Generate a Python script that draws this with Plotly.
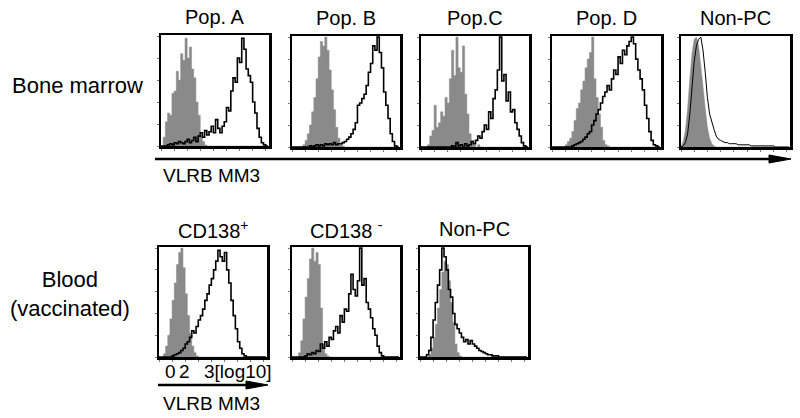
import plotly.graph_objects as go

W, H = 800, 418

# ---------------- data (histogram counts, % of max, 50 channels) ----------------
bins = list(range(50))

popA_ctrl = [0, 8, 22, 30, 28, 48, 50, 68, 60, 84, 78, 98, 80, 90, 70, 62, 40, 28, 10, 4,
             1, 0, 0, 0, 0, 0, 0, 0, 0, 0, 0, 0, 0, 0, 0, 0, 0, 0, 0, 0,
             0, 0, 0, 0, 0, 0, 0, 0, 0, 0]
popA_mm3 = [0, 0, 0, 1, 2, 1, 3, 2, 4, 3, 2, 4, 6, 3, 5, 8, 4, 9, 12, 8,
            14, 10, 13, 18, 12, 24, 16, 12, 18, 22, 35, 32, 50, 62, 58, 80, 76, 98, 88, 70,
            64, 58, 40, 30, 16, 8, 3, 1, 0, 0]

popB_ctrl = [0, 0, 0, 0, 0, 2, 6, 12, 20, 32, 45, 62, 82, 96, 92, 100, 88, 70, 52, 34,
             18, 8, 3, 1, 0, 0, 0, 0, 0, 0, 0, 0, 0, 0, 0, 0, 0, 0, 0, 0,
             0, 0, 0, 0, 0, 0, 0, 0, 0, 0]
popB_mm3 = [0, 0, 0, 0, 0, 0, 0, 0, 1, 0, 1, 2, 1, 2, 1, 3, 2, 3, 2, 4,
            2, 3, 3, 4, 5, 7, 9, 12, 16, 22, 38, 40, 44, 48, 56, 68, 76, 92, 88, 100,
            86, 72, 50, 38, 26, 12, 5, 1, 0, 0]

popC_ctrl = [0, 0, 0, 2, 10, 15, 38, 18, 22, 32, 28, 45, 40, 62, 88, 65, 100, 72, 68, 92,
             48, 30, 12, 6, 2, 0, 2, 0, 0, 0, 0, 0, 0, 0, 0, 0, 0, 0, 0, 0,
             0, 0, 0, 0, 0, 0, 0, 0, 0, 0]
popC_mm3 = [0, 0, 0, 0, 0, 0, 0, 0, 0, 0, 0, 0, 0, 0, 1, 0, 4, 1, 2, 0,
            3, 1, 2, 5, 3, 6, 10, 8, 14, 20, 16, 32, 26, 44, 52, 70, 100, 60, 66, 42,
            50, 32, 34, 22, 16, 10, 4, 1, 0, 0]

popD_ctrl = [0, 0, 0, 0, 0, 0, 2, 5, 8, 14, 24, 35, 40, 52, 60, 72, 80, 86, 100, 62,
             45, 30, 18, 6, 2, 1, 0, 0, 0, 0, 0, 0, 0, 0, 0, 0, 0, 0, 0, 0,
             0, 0, 0, 0, 0, 0, 0, 0, 0, 0]
popD_mm3 = [0, 0, 0, 0, 0, 0, 0, 0, 0, 1, 2, 3, 4, 5, 7, 9, 12, 14, 20, 24,
            30, 34, 40, 46, 50, 56, 52, 62, 70, 66, 82, 76, 88, 84, 92, 96, 100, 94, 80, 70,
            62, 52, 38, 26, 14, 6, 2, 1, 0, 0]

bmNon_ctrl = [0, 5, 15, 35, 62, 85, 98, 100, 92, 75, 55, 35, 18, 8, 3, 1, 0, 0, 0, 0,
              0, 0, 0, 0, 0, 0, 0, 0, 0, 0, 0, 0, 0, 0, 0, 0, 0, 0, 0, 0,
              0, 0, 0, 0, 0, 0, 0, 0, 0, 0]
bmNon_mm3 = [0, 1, 4, 12, 30, 55, 78, 92, 98, 100, 88, 68, 45, 30, 22, 16, 10, 7, 6, 5,
             4, 4, 3, 3, 3, 3, 2, 2, 2, 2, 2, 2, 1, 1, 1, 1, 1, 1, 1, 1,
             1, 1, 1, 0, 0, 0, 0, 0, 0, 0]

cdPos_ctrl = [0, 0, 3, 10, 20, 35, 52, 68, 85, 96, 100, 82, 58, 38, 22, 10, 4, 1, 0, 0,
              0, 0, 0, 0, 0, 0, 0, 0, 0, 0, 0, 0, 0, 0, 0, 0, 0, 0, 0, 0,
              0, 0, 0, 0, 0, 0, 0, 0, 0, 0]
cdPos_mm3 = [0, 0, 0, 0, 0, 0, 1, 2, 3, 4, 6, 8, 12, 14, 18, 24, 22, 28, 34, 38,
             44, 52, 58, 66, 72, 80, 88, 98, 92, 88, 96, 80, 68, 52, 38, 26, 14, 8, 3, 1,
             0, 0, 0, 0, 0, 0, 0, 0, 0, 0]

cdNeg_ctrl = [0, 0, 0, 4, 15, 35, 55, 72, 90, 100, 88, 96, 85, 45, 12, 3, 1, 0, 0, 0,
              0, 0, 0, 0, 0, 0, 0, 0, 0, 0, 0, 0, 0, 0, 0, 0, 0, 0, 0, 0,
              0, 0, 0, 0, 0, 0, 0, 0, 0, 0]
cdNeg_mm3 = [0, 0, 0, 0, 0, 0, 1, 3, 2, 4, 3, 6, 5, 12, 8, 14, 10, 18, 16, 24,
             28, 22, 38, 32, 44, 42, 58, 76, 62, 56, 70, 100, 66, 72, 50, 44, 36, 26, 20, 10,
             4, 1, 0, 0, 0, 0, 0, 0, 0, 0]

blNon_ctrl = [0, 0, 0, 0, 2, 8, 18, 30, 45, 62, 78, 88, 85, 70, 50, 32, 12, 4, 1, 0,
              0, 0, 0, 0, 0, 0, 0, 0, 0, 0, 0, 0, 0, 0, 0, 0, 0, 0, 0, 0,
              0, 0, 0, 0, 0, 0, 0, 0, 0, 0]
blNon_mm3 = [0, 0, 0, 2, 6, 18, 34, 50, 66, 80, 100, 92, 80, 62, 55, 40, 30, 26, 22, 18,
             14, 16, 12, 15, 12, 10, 8, 6, 5, 4, 3, 2, 2, 1, 1, 1, 0, 0, 0, 0,
             0, 0, 0, 0, 0, 0, 0, 0, 0, 0]

titles = ["Pop. A", "Pop. B", "Pop.C", "Pop. D", "Non-PC",
          "CD138<sup>+</sup>", "CD138 <sup>-</sup>", "Non-PC"]
row_labels = ["Bone marrow", "Blood<br>(vaccinated)"]
axis_label = "VLRB MM3"
tick_texts = ["0", "2", "3[log10]"]

# ---------------- layout (pixel boxes: left, top, right, bottom) ----------------
panels = [
    ((161, 35, 269, 146), popA_ctrl, popA_mm3, "hv"),
    ((292, 36, 400, 147), popB_ctrl, popB_mm3, "hv"),
    ((421, 36, 529, 147), popC_ctrl, popC_mm3, "hv"),
    ((552, 36, 661, 147), popD_ctrl, popD_mm3, "hv"),
    ((681, 36, 790, 147), bmNon_ctrl, bmNon_mm3, "linear"),
    ((159, 247, 267, 357), cdPos_ctrl, cdPos_mm3, "hv"),
    ((292, 247, 400, 357), cdNeg_ctrl, cdNeg_mm3, "hv"),
    ((420, 247, 528, 357), blNon_ctrl, blNon_mm3, "hv"),
]

def px(x):
    return x / W

def py(y):
    return 1 - y / H

FONT = "Liberation Sans, Arial, Helvetica, sans-serif"
GRAY = "#8a8a8a"

fig = go.Figure()
layout = dict(width=W, height=H, margin=dict(l=0, r=0, t=0, b=0), autosize=False,
              paper_bgcolor="white", plot_bgcolor="white", showlegend=False,
              font=dict(family=FONT, color="black", size=14))
annotations = []
shapes = []

for i, (box, ctrl, mm3, shape) in enumerate(panels):
    n = "" if i == 0 else str(i + 1)
    xa, ya = "x" + n, "y" + n
    fig.add_trace(go.Scatter(x=bins, y=ctrl, mode="lines", line=dict(width=0.5, color=GRAY, shape=shape),
                             fill="tozeroy", fillcolor=GRAY, xaxis=xa, yaxis=ya, hoverinfo="skip"))
    lw = 1.0 if shape == "linear" else 1.6
    fig.add_trace(go.Scatter(x=bins, y=mm3, mode="lines", line=dict(width=lw, color="black", shape=shape),
                             xaxis=xa, yaxis=ya, hoverinfo="skip"))
    l, t, r, b = box
    common = dict(showline=True, mirror=True, linewidth=2.5, linecolor="black", showgrid=False,
                  zeroline=False, showticklabels=False, ticks="outside", ticklen=2,
                  tickwidth=1, tickcolor="#777")
    layout["xaxis" + n] = dict(domain=[px(l), px(r)], range=[0, 49.5], dtick=6, anchor=ya, **common)
    layout["yaxis" + n] = dict(domain=[py(b), py(t)], range=[0, 101], dtick=20, anchor=xa, **common)
    ty = t - 18
    annotations.append(dict(text=titles[i], x=px((l + r) / 2), y=py(ty), xref="paper", yref="paper",
                            showarrow=False, xanchor="center", yanchor="middle",
                            font=dict(size=20, family=FONT)))

# row labels
annotations.append(dict(text=row_labels[0], x=px(77), y=py(86), xref="paper", yref="paper",
                        showarrow=False, xanchor="center", yanchor="middle", font=dict(size=22)))
annotations.append(dict(text=row_labels[1], x=px(70), y=py(294), xref="paper", yref="paper",
                        showarrow=False, xanchor="center", yanchor="middle", font=dict(size=22)))
# axis labels
annotations.append(dict(text=axis_label, x=px(161), y=py(175), xref="paper", yref="paper",
                        showarrow=False, xanchor="left", yanchor="middle", font=dict(size=19)))
annotations.append(dict(text=axis_label, x=px(161), y=py(403), xref="paper", yref="paper",
                        showarrow=False, xanchor="left", yanchor="middle", font=dict(size=19)))
# scale tick labels under CD138+ panel
for txt, xx in zip(tick_texts, [163, 177, 202]):
    annotations.append(dict(text=txt, x=px(xx), y=py(371), xref="paper", yref="paper",
                            showarrow=False, xanchor="left", yanchor="middle", font=dict(size=19)))

# arrows
def arrow(x0, x1, y, head=22, half=4):
    shapes.append(dict(type="line", xref="paper", yref="paper", x0=px(x0), x1=px(x1 - head + 2),
                       y0=py(y), y1=py(y), line=dict(color="black", width=2.5)))
    path = "M {} {} L {} {} L {} {} Z".format(px(x1), py(y), px(x1 - head), py(y - half),
                                              px(x1 - head), py(y + half))
    shapes.append(dict(type="path", xref="paper", yref="paper", path=path,
                       fillcolor="black", line=dict(color="black", width=1)))

arrow(155, 791, 159)
arrow(158, 268, 385)

layout["annotations"] = annotations
layout["shapes"] = shapes
fig.update_layout(**layout)
fig.write_html("out.html", config={"displayModeBar": False, "staticPlot": True},
               post_script="document.body.style.margin='0';document.body.style.padding='0';")
